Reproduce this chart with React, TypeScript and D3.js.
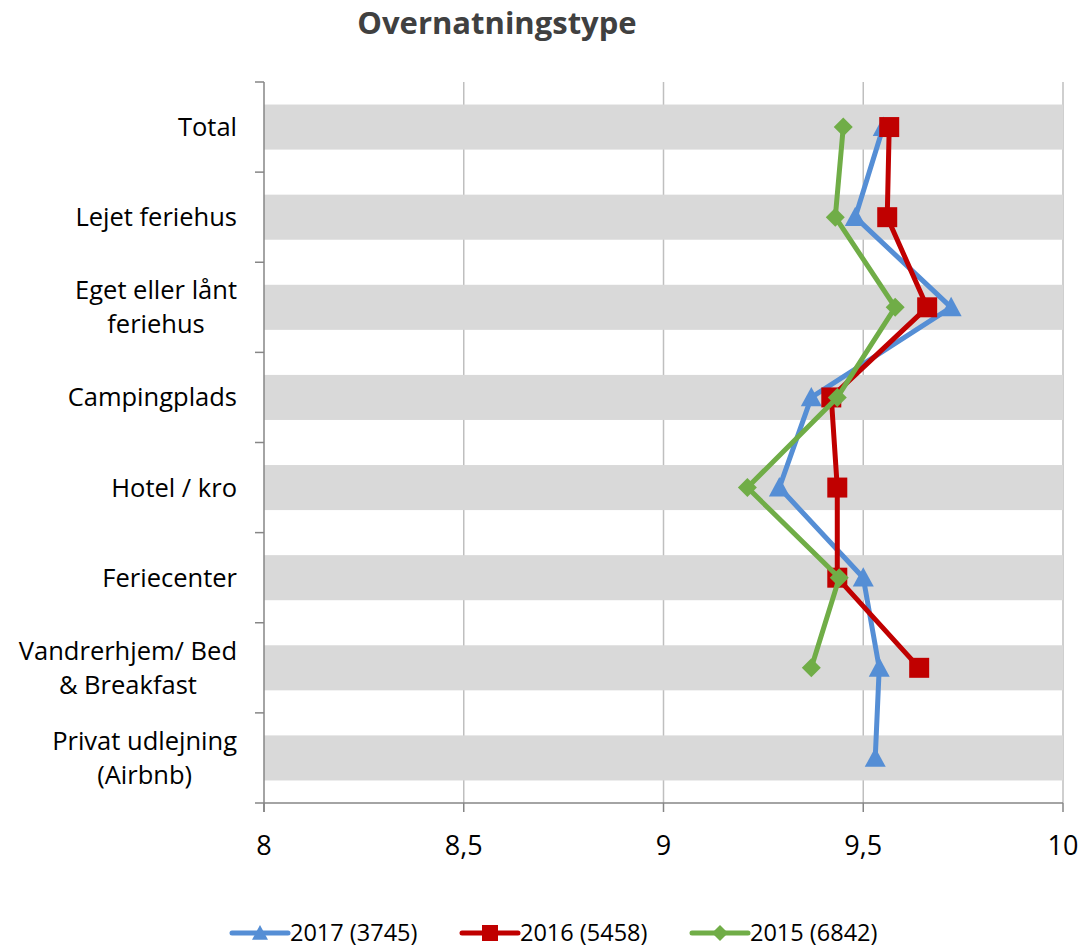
import { useEffect, useRef } from 'react';
import * as d3 from 'd3';

const width = 1081;
const height = 947;
const margin = { top: 82, right: 18, bottom: 144, left: 264 };

const categories = [
  ['Total'],
  ['Lejet feriehus'],
  ['Eget eller lånt', 'feriehus'],
  ['Campingplads'],
  ['Hotel / kro'],
  ['Feriecenter'],
  ['Vandrerhjem/ Bed', '& Breakfast'],
  ['Privat udlejning', '(Airbnb)'],
];
const s2017 = [9.55, 9.48, 9.72, 9.37, 9.29, 9.5, 9.54, 9.53];
const s2016 = [9.565, 9.56, 9.66, 9.42, 9.435, 9.435, 9.64, null];
const s2015 = [9.45, 9.43, 9.58, 9.435, 9.21, 9.44, 9.37, null];
const xTicks = [8, 8.5, 9, 9.5, 10];

const series = [
  { name: '2017 (3745)', values: s2017, color: '#558ed5', marker: 'triangle' },
  { name: '2016 (5458)', values: s2016, color: '#c00000', marker: 'square' },
  { name: '2015 (6842)', values: s2015, color: '#70ad47', marker: 'diamond' },
];

const font = "'Open Sans', sans-serif";

function markerPath(type: string, size: number) {
  const h = size / 2;
  if (type === 'square') return `M${-h},${-h}H${h}V${h}H${-h}Z`;
  if (type === 'diamond') return `M0,${-h}L${h},0L0,${h}L${-h},0Z`;
  return `M0,${-h}L${h},${h * 0.85}L${-h},${h * 0.85}Z`;
}

export default function App() {
  const ref = useRef<SVGSVGElement>(null);

  useEffect(() => {
    const svg = d3.select(ref.current);
    svg.selectAll('*').remove();

    const x = d3.scaleLinear([8, 10], [margin.left, width - margin.right]);
    const y = d3
      .scaleBand<number>()
      .domain(d3.range(categories.length))
      .range([margin.top, height - margin.bottom]);
    const step = y.step();
    const cy = (i: number) => (y(i) as number) + step / 2;

    // title
    svg
      .append('text')
      .attr('x', 497)
      .attr('y', 34)
      .attr('text-anchor', 'middle')
      .attr('font-family', font)
      .attr('font-weight', 700)
      .attr('font-size', 31)
      .attr('fill', '#404040')
      .text('Overnatningstype');

    // vertical gridlines
    svg
      .append('g')
      .selectAll('line')
      .data(xTicks.slice(1))
      .join('line')
      .attr('x1', (d) => x(d))
      .attr('x2', (d) => x(d))
      .attr('y1', margin.top)
      .attr('y2', height - margin.bottom)
      .attr('stroke', '#bfbfbf')
      .attr('stroke-width', 1.5);

    // stripes
    svg
      .append('g')
      .selectAll('rect')
      .data(categories.map((_, i) => i))
      .join('rect')
      .attr('x', x(8))
      .attr('width', x(10) - x(8))
      .attr('y', (i) => cy(i) - step / 4)
      .attr('height', step / 2)
      .attr('fill', '#d9d9d9');

    // axes
    const axis = svg.append('g').attr('stroke', '#868686').attr('stroke-width', 1.5);
    axis
      .append('line')
      .attr('x1', x(8))
      .attr('x2', x(8))
      .attr('y1', margin.top)
      .attr('y2', height - margin.bottom + 9);
    axis
      .append('line')
      .attr('x1', x(8) - 9)
      .attr('x2', x(10))
      .attr('y1', height - margin.bottom)
      .attr('y2', height - margin.bottom);
    axis
      .selectAll('.yt')
      .data(d3.range(categories.length))
      .join('line')
      .attr('x1', x(8) - 9)
      .attr('x2', x(8))
      .attr('y1', (i) => y(i) as number)
      .attr('y2', (i) => y(i) as number);
    axis
      .selectAll('.xt')
      .data(xTicks)
      .join('line')
      .attr('x1', (d) => x(d))
      .attr('x2', (d) => x(d))
      .attr('y1', height - margin.bottom)
      .attr('y2', height - margin.bottom + 9);

    // x tick labels
    svg
      .append('g')
      .selectAll('text')
      .data(xTicks)
      .join('text')
      .attr('x', (d) => x(d))
      .attr('y', height - margin.bottom + 52)
      .attr('text-anchor', 'middle')
      .attr('font-family', font)
      .attr('font-size', 27)
      .attr('fill', '#000')
      .text((d) => String(d).replace('.', ','));

    // category labels (multi-line blocks centred, right-aligned as a block)
    const labelRight = 237;
    const lineH = 34;
    categories.forEach((lines, i) => {
      const g = svg.append('g');
      const texts = lines.map((t, j) =>
        g
          .append('text')
          .attr('font-family', font)
          .attr('font-size', 25.5)
          .attr('fill', '#000')
          .attr('text-anchor', 'middle')
          .attr('y', cy(i) + (j - (lines.length - 1) / 2) * lineH + 9)
          .text(t)
      );
      const maxW = d3.max(texts, (t) => (t.node() as SVGTextElement).getComputedTextLength()) ?? 0;
      texts.forEach((t) => t.attr('x', labelRight - maxW / 2));
    });

    // series
    series.forEach((s) => {
      const pts = s.values
        .map((v, i) => ({ v, i }))
        .filter((p) => p.v !== null) as { v: number; i: number }[];
      const line = d3
        .line<{ v: number; i: number }>()
        .x((p) => x(p.v))
        .y((p) => cy(p.i));
      const g = svg.append('g');
      g.append('path')
        .attr('d', line(pts) ?? '')
        .attr('fill', 'none')
        .attr('stroke', s.color)
        .attr('stroke-width', 5)
        .attr('stroke-linejoin', 'round')
        .attr('stroke-linecap', 'round');
      g.selectAll('path.m')
        .data(pts)
        .join('path')
        .attr('class', 'm')
        .attr('transform', (p) => `translate(${x(p.v)},${cy(p.i)})`)
        .attr('d', markerPath(s.marker, s.marker === 'square' ? 20 : s.marker === 'diamond' ? 19 : 21))
        .attr('fill', s.color);
    });

    // legend
    const legendX = [232, 462, 692];
    const ly = 933;
    series.forEach((s, k) => {
      const g = svg.append('g').attr('transform', `translate(${legendX[k]},${ly})`);
      g.append('line')
        .attr('x1', 0)
        .attr('x2', 56)
        .attr('stroke', s.color)
        .attr('stroke-width', 5)
        .attr('stroke-linecap', 'round');
      g.append('path')
        .attr('transform', 'translate(28,0)')
        .attr('d', markerPath(s.marker, 16))
        .attr('fill', s.color);
      g.append('text')
        .attr('x', 58)
        .attr('y', 8)
        .attr('font-family', font)
        .attr('font-size', 23.5)
        .attr('fill', '#000')
        .text(s.name);
    });
  }, []);

  return (
    <svg
      ref={ref}
      width={width}
      height={height}
      style={{ position: 'absolute', left: 0, top: 0, background: '#fff' }}
    />
  );
}
